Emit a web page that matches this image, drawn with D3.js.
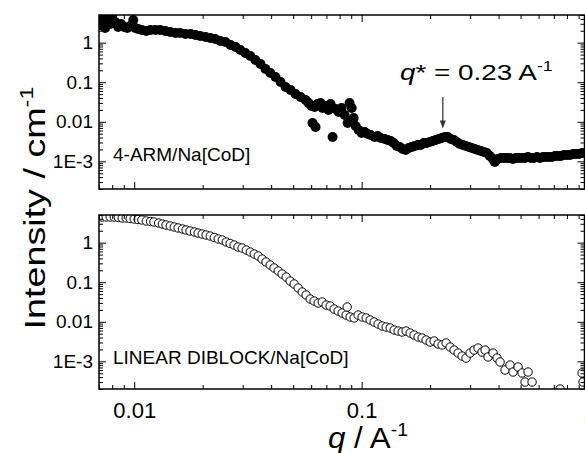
<!DOCTYPE html>
<html><head><meta charset="utf-8">
<script src="https://cdn.jsdelivr.net/npm/d3@7"></script>
<style>
body{margin:0;background:#fff}
svg{display:block}
text{font-family:"Liberation Sans",Arial,Helvetica,sans-serif;fill:#000}
</style>
</head><body>
<svg id="c" width="585" height="453"></svg>
<script>
// ---- data ----
const xMajorTicks = [0.01, 0.1, 1];
const xTickLabels = ["0.01", "0.1", "1"];
const yMajorTicks = [1e-3, 0.01, 0.1, 1];
const yTickLabels = ["1E-3", "0.01", "0.1", "1"];

// 4-ARM / Na[CoD]  (filled circles)
const armQ = [0.00708,0.00730,0.00745,0.00761,0.00784,0.00800,0.00825,0.00850,0.00876,0.00903,0.00932,0.00960,0.00990,0.0101,0.0104,0.0108,0.0113,0.0118,0.0124,0.0130,0.0137,0.0144,0.0152,0.0159,0.0168,0.0177,0.0186,0.0195,0.0206,0.0216,0.0227,0.0239,0.0252,0.0265,0.0279,0.0293,0.0308,0.0324,0.0341,0.0359,0.0378,0.0397,0.0418,0.0440,0.0463,0.0487,0.0512,0.0539,0.0567,0.0584,0.0602,0.0608,0.0621,0.0627,0.0640,0.0660,0.0673,0.0694,0.0715,0.0730,0.0745,0.0768,0.0792,0.0816,0.0842,0.0868,0.0885,0.0904,0.0922,0.0941,0.0970,0.100,0.1031,0.1063,0.1096,0.1141,0.1176,0.1213,0.1263,0.1302,0.1342,0.1384,0.1427,0.1471,0.1516,0.1563,0.1611,0.1661,0.1712,0.1765,0.1820,0.1876,0.1934,0.1994,0.2055,0.2119,0.2184,0.2252,0.2321,0.2393,0.2467,0.2543,0.2621,0.2702,0.2786,0.2872,0.2961,0.3052,0.3146,0.3243,0.3343,0.3447,0.3553,0.3663,0.3776,0.3853,0.3972,0.4095,0.4222,0.4352,0.4487,0.4625,0.4768,0.4916,0.5068,0.5224,0.5386,0.5552,0.5724,0.5901,0.6083,0.6272,0.6466,0.6665,0.6871,0.7084,0.7303,0.7529,0.7761,0.8001,0.8249,0.8503,0.8766,0.9037,0.9317,0.9605];
const armI = [2.79,3.74,2.35,4.45,2.96,4.9,3.33,2.49,2.96,2.49,2.35,2.64,3.74,2.35,2.21,2.09,1.97,2.09,2.09,2.09,1.97,1.86,1.75,1.75,1.65,1.65,1.56,1.47,1.39,1.31,1.24,1.10,1.04,0.872,0.776,0.652,0.547,0.460,0.364,0.289,0.216,0.171,0.135,0.101,0.0757,0.0635,0.0504,0.0423,0.0355,0.0298,0.0250,0.00931,0.0236,0.00738,0.0281,0.0298,0.0223,0.0250,0.0198,0.0281,0.00412,0.0210,0.0177,0.0223,0.0148,0.00931,0.0298,0.0223,0.0125,0.00782,0.00619,0.00520,0.00551,0.00491,0.00463,0.00412,0.00437,0.00389,0.00367,0.00346,0.00327,0.00291,0.00244,0.00230,0.00205,0.00193,0.00217,0.00230,0.00244,0.00259,0.00259,0.00291,0.00291,0.00308,0.00327,0.00346,0.00367,0.00389,0.00412,0.00412,0.00367,0.00346,0.00308,0.00274,0.00259,0.00244,0.00230,0.00217,0.00205,0.00193,0.00182,0.00172,0.00162,0.00136,0.00115,0.000962,0.00115,0.00121,0.00121,0.00121,0.00121,0.00115,0.00121,0.00121,0.00121,0.00121,0.00129,0.00121,0.00121,0.00129,0.00121,0.00129,0.00129,0.00129,0.00129,0.00136,0.00136,0.00136,0.00145,0.00145,0.00145,0.00153,0.00153,0.00153,0.00162,0.00162];

// LINEAR DIBLOCK / Na[CoD]  (open circles)
const linQ = [0.00723,0.00753,0.00784,0.00817,0.00851,0.00886,0.00922,0.00960,0.0100,0.0104,0.0108,0.0113,0.0118,0.0122,0.0128,0.0133,0.0138,0.0144,0.0150,0.0156,0.0163,0.0169,0.0176,0.0184,0.0191,0.0199,0.0207,0.0216,0.0225,0.0234,0.0244,0.0254,0.0264,0.0275,0.0286,0.0298,0.0311,0.0324,0.0337,0.0351,0.0365,0.0380,0.0396,0.0412,0.0430,0.0447,0.0466,0.0485,0.0505,0.0526,0.0548,0.0570,0.0594,0.0618,0.0644,0.0671,0.0698,0.0727,0.0757,0.0788,0.0821,0.0855,0.0864,0.0890,0.0927,0.0965,0.1005,0.1047,0.1090,0.1135,0.1182,0.1231,0.1282,0.1335,0.1390,0.1447,0.1507,0.1569,0.1634,0.1701,0.1772,0.1845,0.1921,0.2000,0.2083,0.2169,0.2259,0.2352,0.2449,0.2550,0.2656,0.2765,0.2879,0.2998,0.3122,0.3251,0.3385,0.3490,0.3597,0.3784,0.3940,0.4062,0.4273,0.4494,0.4633,0.4874,0.5076,0.5232,0.5393,0.5616,0.7456,0.9317,0.9412];
const linI = [4.45,4.45,4.45,4.45,4.32,4.20,4.20,4.08,3.96,3.85,3.74,3.53,3.43,3.33,3.14,2.96,2.79,2.64,2.49,2.35,2.21,2.09,1.97,1.86,1.75,1.65,1.56,1.47,1.35,1.24,1.17,1.04,0.952,0.872,0.776,0.732,0.652,0.580,0.516,0.460,0.386,0.324,0.272,0.229,0.192,0.161,0.135,0.107,0.0901,0.0714,0.0565,0.0475,0.0376,0.0335,0.0298,0.0316,0.0265,0.0250,0.0210,0.0187,0.0167,0.0148,0.0236,0.0132,0.0125,0.0148,0.0132,0.0125,0.0111,0.00987,0.00878,0.00782,0.00738,0.00696,0.00619,0.00584,0.00551,0.00584,0.00520,0.00463,0.00412,0.00389,0.00346,0.00308,0.00327,0.00274,0.00259,0.00291,0.00230,0.00193,0.00162,0.00136,0.00121,0.00162,0.00193,0.00217,0.00172,0.00193,0.00129,0.00162,0.00121,0.000962,0.000604,0.000808,0.000537,0.000719,0.000507,0.000300,0.000537,0.000300,0.000200,0.000507,0.000300];

// annotation: q* peak arrow
const peakQ = 0.2275;
const arrowI = [0.042, 0.0068];

// ---- drawing ----
const svg = d3.select("#c");
const x = d3.scaleLog().domain([0.007, 0.955]).range([99, 584.5]);
const xMinor = x.ticks().filter(v => Math.abs(Math.log10(v) - Math.round(Math.log10(v))) > 1e-6);

const panels = [
  {top: 15, bottom: 189, q: armQ, I: armI, filled: true, label: "4-ARM/Na[CoD]", labelY: 161, xLabels: false},
  {top: 215, bottom: 389, q: linQ, I: linI, filled: false, label: "LINEAR DIBLOCK/Na[CoD]", labelY: 364, xLabels: true}
];

const defs = svg.append("defs");

panels.forEach((p, k) => {
  const y = d3.scaleLog().domain([2e-4, 5]).range([p.bottom, p.top]);
  p.y = y;
  const yMinor = y.ticks().filter(v => Math.abs(Math.log10(v) - Math.round(Math.log10(v))) > 1e-6);

  defs.append("clipPath").attr("id", "clip" + k)
    .append("rect").attr("x", 99).attr("y", p.top)
    .attr("width", 584.5 - 99).attr("height", p.bottom - p.top);

  const data = p.q.map((q, i) => ({q, I: p.I[i]}));
  svg.append("g").attr("clip-path", `url(#clip${k})`)
    .selectAll("circle").data(data).join("circle")
    .attr("cx", d => x(d.q)).attr("cy", d => y(d.I))
    .attr("r", p.filled ? 5 : 4.2)
    .attr("fill", p.filled ? "#000" : "#fff")
    .attr("stroke", p.filled ? "none" : "#000")
    .attr("stroke-width", 1);

  // axes (ticks inward)
  const mk = (g) => { g.select(".domain").remove(); g.selectAll("line").attr("stroke", "#000").attr("stroke-width", 1); return g; };
  // bottom
  mk(svg.append("g").attr("transform", `translate(0,${p.bottom})`)
    .call(d3.axisBottom(x).tickValues(xMinor).tickSize(-4).tickFormat("")));
  const bx = svg.append("g").attr("transform", `translate(0,${p.bottom})`)
    .call(d3.axisBottom(x).tickValues(xMajorTicks).tickSize(-7).tickPadding(13)
      .tickFormat((d, i) => p.xLabels ? xTickLabels[i] : ""));
  mk(bx);
  bx.selectAll("text").attr("font-size", 22).attr("font-family", null);
  // top
  mk(svg.append("g").attr("transform", `translate(0,${p.top})`)
    .call(d3.axisTop(x).tickValues(xMinor).tickSize(-4).tickFormat("")));
  mk(svg.append("g").attr("transform", `translate(0,${p.top})`)
    .call(d3.axisTop(x).tickValues(xMajorTicks).tickSize(-7).tickFormat("")));
  // left
  mk(svg.append("g").attr("transform", `translate(99,0)`)
    .call(d3.axisLeft(y).tickValues(yMinor).tickSize(-4).tickFormat("")));
  const ly = svg.append("g").attr("transform", `translate(99,0)`)
    .call(d3.axisLeft(y).tickValues(yMajorTicks).tickSize(-7).tickPadding(6)
      .tickFormat((d, i) => yTickLabels[i]));
  mk(ly);
  ly.selectAll("text").attr("font-size", 19).attr("font-family", null);
  // right
  mk(svg.append("g").attr("transform", `translate(584.5,0)`)
    .call(d3.axisRight(y).tickValues(yMinor).tickSize(-4).tickFormat("")));
  mk(svg.append("g").attr("transform", `translate(584.5,0)`)
    .call(d3.axisRight(y).tickValues(yMajorTicks).tickSize(-7).tickFormat("")));

  // frame
  svg.append("rect").attr("x", 99).attr("y", p.top)
    .attr("width", 584.5 - 99).attr("height", p.bottom - p.top)
    .attr("fill", "none").attr("stroke", "#000").attr("stroke-width", 1.5);

  svg.append("text").attr("x", 113).attr("y", p.labelY)
    .attr("font-size", 19).text(p.label);
});

// arrow annotation in top panel
const yT = panels[0].y;
const ax = x(peakQ);
svg.append("line").attr("x1", ax).attr("x2", ax)
  .attr("y1", yT(arrowI[0])).attr("y2", yT(arrowI[1]) - 6)
  .attr("stroke", "#333").attr("stroke-width", 1.2);
svg.append("path")
  .attr("d", `M${ax - 3},${yT(arrowI[1]) - 8} L${ax},${yT(arrowI[1])} L${ax + 3},${yT(arrowI[1]) - 8} Z`)
  .attr("fill", "#333");

// stretched text helper
function place(el, tx, ty, rot, target) {
  el.attr("transform", `translate(${tx},${ty}) rotate(${rot})`);
  const w = el.node().getBBox().width;
  el.attr("transform", `translate(${tx},${ty}) rotate(${rot}) scale(${target / w},1)`);
}

const ann = svg.append("text").attr("font-size", 22).attr("text-anchor", "start");
ann.append("tspan").attr("font-style", "italic").text("q");
ann.append("tspan").text("* = 0.23 A");
ann.append("tspan").attr("font-size", 14).attr("dy", -9).text("-1");
place(ann, 400, 80, 0, 153);

// axis titles
const xl = svg.append("text").attr("font-size", 29).attr("text-anchor", "start");
xl.append("tspan").attr("font-style", "italic").text("q");
xl.append("tspan").text(" / A");
xl.append("tspan").attr("font-size", 18).attr("dy", -12).text("-1");
place(xl, 328, 448, 0, 80);

const yl = svg.append("text").attr("font-size", 29).attr("text-anchor", "middle");
yl.append("tspan").text("Intensity / cm");
yl.append("tspan").attr("font-size", 18).attr("dy", -12).text("-1");
place(yl, 45, 208, -90, 243);
</script>
</body></html>
